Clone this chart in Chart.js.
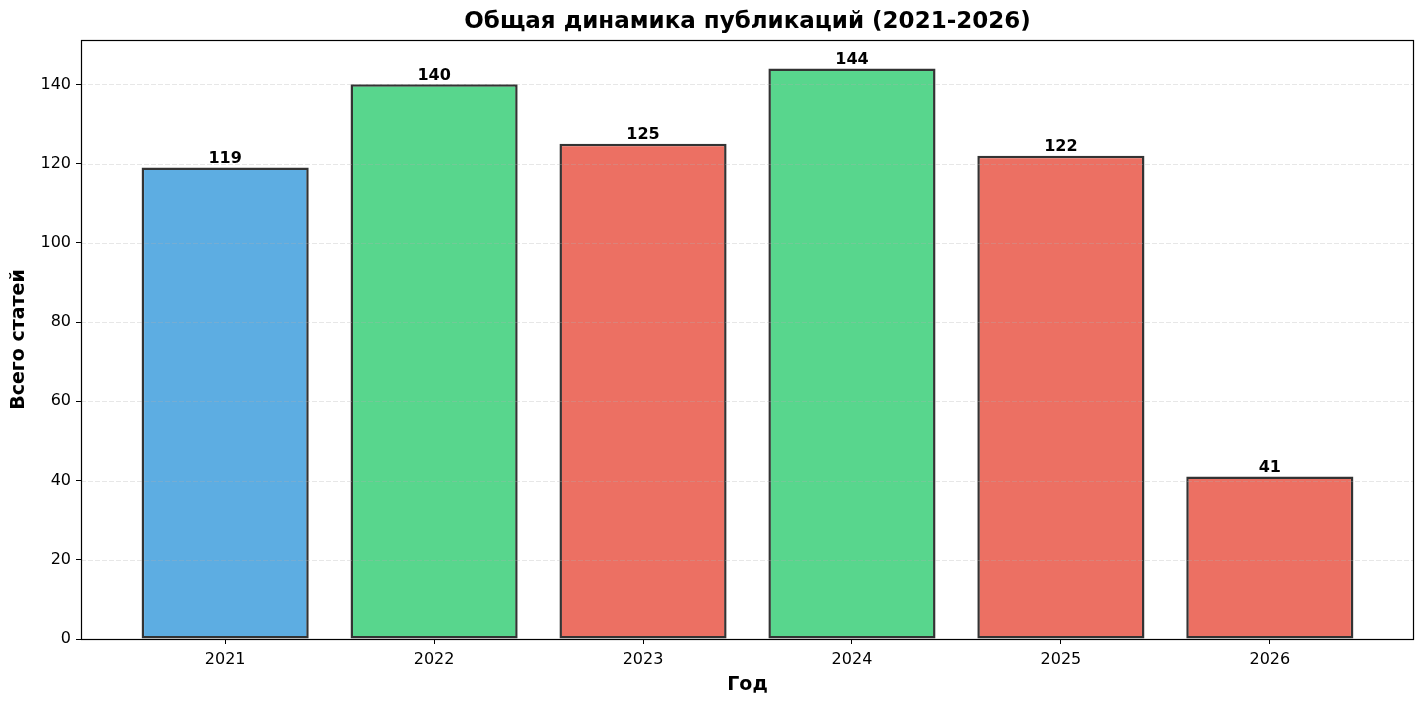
<!DOCTYPE html>
<html>
<head>
<meta charset="utf-8">
<script src="https://cdn.jsdelivr.net/npm/chart.js@4.4.1/dist/chart.umd.min.js"></script>
<style>
  html, body { margin: 0; padding: 0; background: #fff; }
  #wrap { width: 1425px; height: 706px; position: relative; }
</style>
</head>
<body>
<div id="wrap"><canvas id="chart"></canvas></div>
<script>
// data
const years = ['2021', '2022', '2023', '2024', '2025', '2026'];
const articles = [119, 140, 125, 144, 122, 41];
const barColors = ['#5dade2', '#58d68d', '#ec7063', '#58d68d', '#ec7063', '#ec7063'];
const yTicks = [0, 20, 40, 60, 80, 100, 120, 140];

const chartTitle = 'Общая динамика публикаций (2021-2026)';
const xTitle = 'Год';
const yTitle = 'Всего статей';

const FONT = "'DejaVu Sans', sans-serif";

// title, dashed grid over the bars, the frame and the value labels
const extras = {
    id: 'extras',
    afterDatasetsDraw(chart) {
        const ctx = chart.ctx;
        const area = chart.chartArea;
        const y = chart.scales.y;

        ctx.save();
        // grid (matplotlib draws it above the patches)
        ctx.strokeStyle = 'rgba(176,176,176,0.3)';
        ctx.lineWidth = 1;
        ctx.setLineDash([5, 2]);
        yTicks.forEach(t => {
            const py = Math.round(y.getPixelForValue(t)) + 0.5;
            ctx.beginPath();
            ctx.moveTo(area.left, py);
            ctx.lineTo(area.right, py);
            ctx.stroke();
        });
        ctx.setLineDash([]);

        // frame
        ctx.strokeStyle = '#000';
        ctx.lineWidth = 1.2;
        ctx.strokeRect(area.left + 0.5, area.top + 0.5, area.right - area.left - 1, area.bottom - area.top);

        // value labels
        const meta = chart.getDatasetMeta(0);
        ctx.fillStyle = '#000';
        ctx.font = 'bold 16px ' + FONT;
        ctx.textAlign = 'center';
        ctx.textBaseline = 'bottom';
        meta.data.forEach((bar, i) => {
            ctx.fillText(String(articles[i]), bar.x, bar.y - 1);
        });

        // title
        ctx.font = 'bold 23px ' + FONT;
        ctx.textBaseline = 'middle';
        ctx.fillText(chartTitle, (area.left + area.right) / 2, 22);
        ctx.restore();
    }
};

const ctx = document.getElementById('chart').getContext('2d');
new Chart(ctx, {
    type: 'bar',
    data: {
        datasets: [{
            data: articles.map((v, i) => ({ x: i, y: v })),
            backgroundColor: barColors,
            borderColor: 'rgba(0,0,0,0.8)',
            borderWidth: 2.5,
            borderSkipped: false,
            barPercentage: 0.8,
            categoryPercentage: 1.0
        }]
    },
    options: {
        responsive: true,
        maintainAspectRatio: false,
        animation: false,
        layout: { padding: { top: 40, right: 11, bottom: 0, left: 0 } },
        plugins: {
            legend: { display: false },
            tooltip: { enabled: false }
        },
        scales: {
            x: {
                type: 'linear',
                offset: false,
                min: -0.69,
                max: 5.69,
                afterBuildTicks: scale => {
                    scale.ticks = years.map((_, i) => ({ value: i }));
                },
                afterFit: scale => { scale.height = 67; },
                grid: {
                    display: true,
                    offset: false,
                    drawOnChartArea: false,
                    drawTicks: true,
                    tickLength: 5,
                    tickColor: '#000',
                    color: '#000'
                },
                border: { display: false },
                ticks: {
                    color: '#000',
                    padding: 6,
                    maxRotation: 0,
                    font: { family: FONT, size: 16 },
                    callback: v => years[v]
                },
                title: {
                    display: true,
                    text: xTitle,
                    color: '#000',
                    font: { family: FONT, size: 19, weight: 'bold' },
                    padding: { top: 0, bottom: 10 }
                }
            },
            y: {
                min: 0,
                max: 151.2,
                afterBuildTicks: scale => {
                    scale.ticks = yTicks.map(v => ({ value: v }));
                },
                afterFit: scale => { scale.width = 81; },
                grid: {
                    display: true,
                    drawOnChartArea: false,
                    drawTicks: true,
                    tickLength: 5,
                    tickColor: '#000'
                },
                border: { display: false },
                ticks: {
                    color: '#000',
                    padding: 5,
                    font: { family: FONT, size: 16 }
                },
                title: {
                    display: true,
                    text: yTitle,
                    color: '#000',
                    font: { family: FONT, size: 19, weight: 'bold' },
                    padding: { top: 8, bottom: 0 }
                }
            }
        }
    },
    plugins: [extras]
});
</script>
</body>
</html>
